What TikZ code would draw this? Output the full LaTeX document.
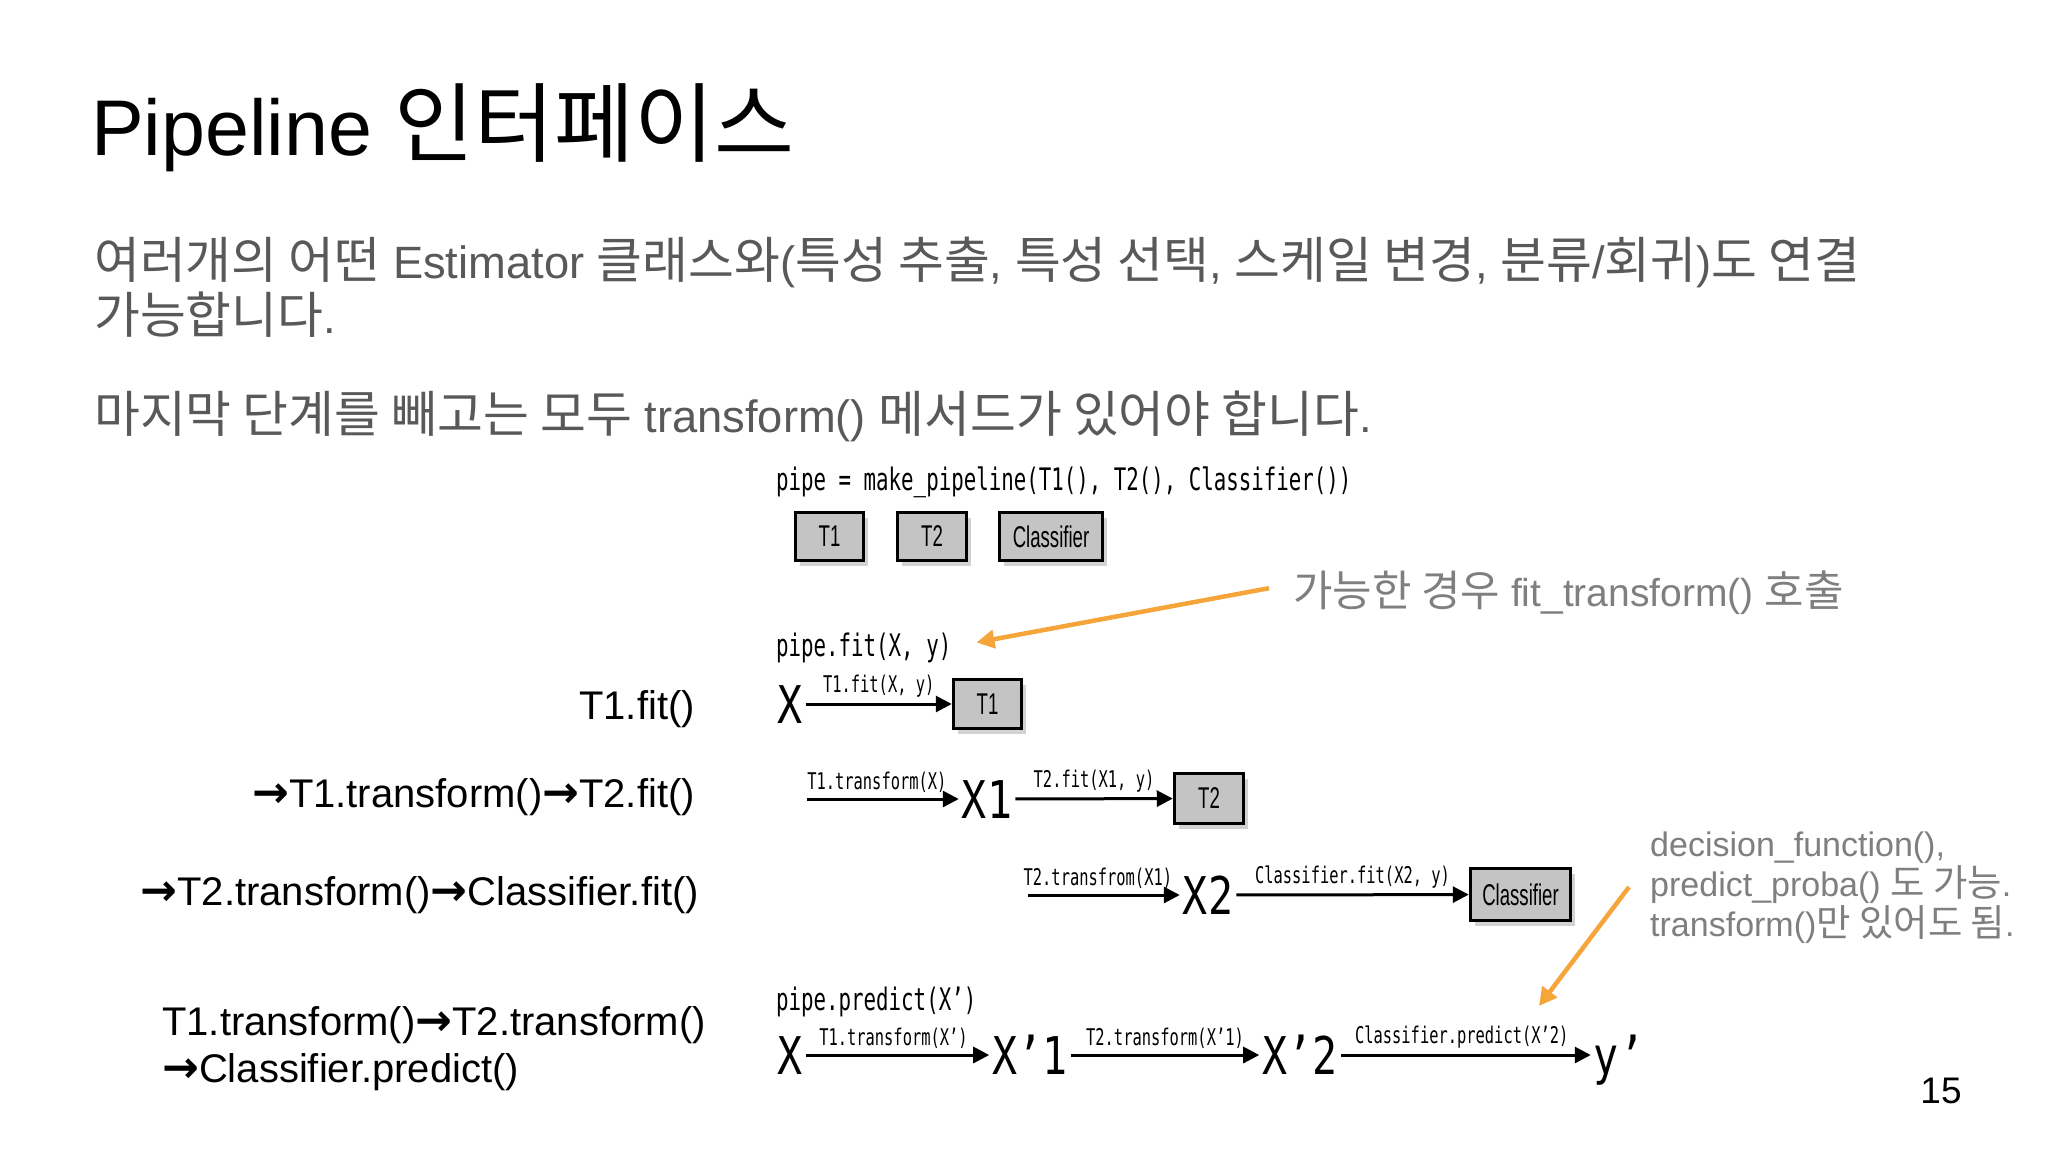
\documentclass[tikz,border=0pt]{standalone}
\usepackage{fontspec}
\setmainfont{Liberation Sans}
\newfontfamily\krf[Scale=1.1]{Noto Sans CJK KR}
\newfontfamily\codef[FakeStretch=0.67]{DejaVu Sans Mono}
\newfontfamily\bigf[FakeStretch=0.8]{DejaVu Sans Mono}
\newfontfamily\boxf[FakeStretch=0.62]{Liberation Sans}
\newfontfamily\arrf[Scale=1.1]{DejaVu Sans}
\usetikzlibrary{arrows.meta,shadows}
\newcommand\kr[1]{{\krf #1}}
\newcommand\rarr{{\arrf\bfseries →}}
\definecolor{bodygray}{HTML}{595959}
\definecolor{notegray}{HTML}{7F7F7F}
\definecolor{boxgray}{HTML}{C4C4C4}
\definecolor{orangeA}{HTML}{F5A53A}
\tikzset{
  title/.style={inner sep=0pt, anchor=base west, font=\fontsize{79}{90}\selectfont},
  body/.style={inner sep=0pt, anchor=base west, text=bodygray, font=\fontsize{45.3}{53}\selectfont},
  steplbl/.style={inner sep=0pt, text=black, font=\fontsize{40}{46}\selectfont},
  codetxt/.style={inner sep=0pt, anchor=base west, font=\codef\fontsize{31}{36}\selectfont},
  lbl/.style={inner sep=0pt, font=\codef\fontsize{23}{26}\selectfont},
  bigl/.style={inner sep=3pt, text height=38pt, text depth=0pt, font=\bigf\fontsize{52}{60}\selectfont},
  pbox/.style={draw=black, line width=3.5pt, fill=boxgray, inner sep=0pt,
    font=\boxf\fontsize{30}{34}\selectfont,
    drop shadow={shadow xshift=4pt, shadow yshift=-5pt, opacity=0.35}},
  flow/.style={line width=3pt, -{Triangle[length=16pt,width=16pt]}},
  note/.style={line width=4.5pt, draw=orangeA, -{Triangle[length=18pt,width=18pt]}},
  notetxt/.style={inner sep=0pt, text=notegray},
}
\begin{document}
\begin{tikzpicture}[x=1pt,y=-1pt]
\fill[white] (0,0) rectangle (2048,1152);
\useasboundingbox (0,0) rectangle (2048,1152);

% title and body text
\node[title] (ttl) at (91,155) {Pipeline \kr{인터페이스}};
\node[body] (b1) at (94,278) {\kr{여러개의 어떤} Estimator \kr{클래스와}(\kr{특성 추출}, \kr{특성 선택}, \kr{스케일 변경}, \kr{분류}/\kr{회귀})\kr{도 연결}};
\node[body] (b2) at (94,333) {\kr{가능합니다}.};
\node[body] (b3) at (94,432) {\kr{마지막 단계를 빼고는 모두} transform() \kr{메서드가 있어야 합니다}.};

% left step labels
\node[steplbl, anchor=base east] (s1) at (695,719) {T1.fit()};
\node[steplbl, anchor=base east] (s2) at (695,807) {\rarr T1.transform()\rarr T2.fit()};
\node[steplbl, anchor=base east] (s3) at (699,905) {\rarr T2.transform()\rarr Classifier.fit()};
\node[steplbl, anchor=base west] (s4) at (162,1035) {T1.transform()\rarr T2.transform()};
\node[steplbl, anchor=base west] (s5) at (162,1082) {\rarr Classifier.predict()};

% pipeline definition
\node[codetxt] (mk) at (776,490) {pipe = make\_pipeline(T1(), T2(), Classifier())};
\node[pbox, minimum width=68pt, minimum height=48pt] (bt1) at (829.5,536.5) {T1};
\node[pbox, minimum width=69pt, minimum height=48pt] (bt2) at (932,536.5) {T2};
\node[pbox, minimum width=103pt, minimum height=48pt] (bcl) at (1051,536.5) {Classifier};

% fit
\node[codetxt] (pfit) at (776,656) {pipe.fit(X, y)};
\node[bigl] (x0) at (790,704) {X};
\node[pbox, minimum width=68pt, minimum height=49pt] (ft1) at (987.5,704) {T1};
\draw[flow] (x0) -- (ft1) node[lbl, midway, above=5pt] (l1) {T1.fit(X, y)};

\coordinate (r2s) at (807,799);
\node[bigl] (x1) at (987,799) {X1};
\node[pbox, minimum width=69pt, minimum height=50pt] (ft2) at (1209,798.5) {T2};
\draw[flow] (r2s) -- (x1) node[lbl, midway, above=5pt, xshift=-6pt] (l2) {T1.transform(X)};
\draw[flow] (x1) -- (ft2) node[lbl, midway, above=5pt] (l3) {T2.fit(X1, y)};

\coordinate (r3s) at (1028,895);
\node[bigl] (x2) at (1208,895) {X2};
\node[pbox, minimum width=100pt, minimum height=52pt] (fcl) at (1520.5,894.5) {Classifier};
\draw[flow] (r3s) -- (x2) node[lbl, midway, above=5pt, xshift=-6pt] (l4) {T2.transfrom(X1)};
\draw[flow] (x2) -- (fcl) node[lbl, midway, above=5pt] (l5) {Classifier.fit(X2, y)};

% predict
\node[codetxt] (ppred) at (776,1010) {pipe.predict(X’)};
\node[bigl] (p0) at (790,1055) {X};
\node[bigl] (p1) at (1030,1055) {X’1};
\node[bigl] (p2) at (1300,1055) {X’2};
\node[bigl] (p3) at (1619,1055) {y’};
\draw[flow] (p0) -- (p1) node[lbl, midway, above=5pt, xshift=-4pt] (l6) {T1.transform(X’)};
\draw[flow] (p1) -- (p2) node[lbl, midway, above=5pt] (l7) {T2.transform(X’1)};
\draw[flow] (p2) -- (p3) node[lbl, midway, above=5pt, xshift=-4pt] (l8) {Classifier.predict(X’2)};

% annotations
\node[notetxt, anchor=base west, font=\fontsize{39}{46}\selectfont] (ann1) at (1293,606) {\kr{가능한 경우} fit\_transform() \kr{호출}};
\draw[note] ([xshift=-24pt,yshift=4pt]ann1.west) -- ([xshift=25pt,yshift=5pt]pfit.east);

\node[notetxt, anchor=west, align=left, font=\fontsize{34}{40}\selectfont] (ann2) at (1650,888)
  {decision\_function(),\\predict\_proba() \kr{도 가능}.\\transform()\kr{만 있어도 됨}.};
\coordinate (a2s) at (1629,887);
\coordinate (a2e) at (1539,1006);
\draw[note] (a2s) -- (a2e);

% page number
\node[inner sep=0pt, anchor=base, font=\fontsize{37}{44}\selectfont] (pg) at (1941,1103) {15};
\end{tikzpicture}
\end{document}
